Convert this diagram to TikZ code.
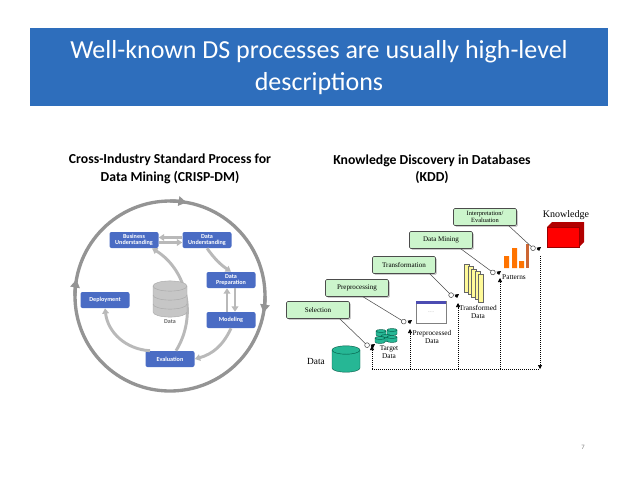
\documentclass[tikz,border=0pt]{standalone}
\usepackage{fontspec}
\setmainfont{Carlito}
\newfontfamily\serif{Liberation Serif}
\usetikzlibrary{arrows.meta,shapes.geometric,shadows,calc}
\definecolor{banner}{RGB}{46,110,188}
\definecolor{cbox}{RGB}{74,108,196}
\definecolor{agray}{RGB}{185,185,185}
\definecolor{kgreen}{RGB}{204,245,204}
\definecolor{teal}{RGB}{0,170,130}
\newlength{\pu}\setlength{\pu}{0.75pt}
\tikzset{
 cb/.style={fill=cbox,rounded corners=1.5pt,minimum width=49\pu,minimum height=16\pu,inner sep=0pt,text=white,font=\bfseries\fontsize{4.6}{5}\selectfont,align=center},
 ga/.style={draw=agray,line width=2.2pt,-{Triangle[length=4pt,width=5pt]}},
 kb/.style={draw=black!70,fill=kgreen,rounded corners=1pt,minimum width=63\pu,minimum height=17\pu,inner sep=0pt,font=\serif\fontsize{5.3}{5.5}\selectfont,align=center,drop shadow={shadow xshift=1pt,shadow yshift=-1pt,fill=black!40}},
 kl/.style={font=\serif\fontsize{5.5}{6}\selectfont,align=center,inner sep=0pt},
 con/.style={draw=black!70,line width=0.4pt,-{Circle[open,length=4pt,width=4pt]}},
 tip/.style={-{Triangle[length=3pt,width=3pt]},line width=0.4pt},
 dot/.style={densely dotted,line width=0.5pt},
 hd/.style={font=\bfseries\fontsize{10.3}{13}\selectfont,align=center,inner sep=0pt},
 pics/cyl/.style args={#1/#2/#3/#4}{code={
   \fill[#3] (-#1,0) -- (-#1,#2) arc[start angle=180,end angle=0,x radius=#1,y radius=#1*0.3] -- (#1,0) arc[start angle=0,end angle=-180,x radius=#1,y radius=#1*0.3];
   \draw[#4,line width=0.3pt] (-#1,0) -- (-#1,#2) arc[start angle=180,end angle=0,x radius=#1,y radius=#1*0.3] -- (#1,0);
   \draw[#4,line width=0.3pt] (0,0) ellipse[x radius=#1,y radius=#1*0.3];
 }},
}
\begin{document}
\begin{tikzpicture}[x=0.75pt,y=-0.75pt]
\useasboundingbox (0,0) rectangle (638,493);
\fill[banner] (30,28) rectangle (608,106);
\node[text=white,font=\fontsize{19.5}{24}\selectfont,align=center] (title) at (319,68) {Well-known DS processes are usually high-level\\descriptions};
\node[hd] (hl) at (170,169) {Cross-Industry Standard Process for\\Data Mining (CRISP-DM)};
\node[hd] (hr) at (432,169) {Knowledge Discovery in Databases\\(KDD)};
% CRISP
\coordinate (cc) at (170,296);
\draw[agray!80!black,line width=2.5pt] (cc) circle[radius=95\pu];
\draw[agray!80!black,line width=2.5pt,-{Triangle[length=6pt,width=7pt]}] ($(cc)+(0,-95)$) arc[start angle=90,end angle=80,radius=95\pu];
\draw[agray!80!black,line width=2.5pt,-{Triangle[length=6pt,width=7pt]}] ($(cc)+(95,0)$) arc[start angle=0,end angle=-10,radius=95\pu];
\draw[agray!80!black,line width=2.5pt,-{Triangle[length=6pt,width=7pt]}] ($(cc)+(-95,0)$) arc[start angle=180,end angle=170,radius=95\pu];
\node[cb] (bu) at (134,240) {Business\\Understanding};
\node[cb] (du) at (207,240) {Data\\Understanding};
\node[cb] (dp) at (231,280) {Data\\Preparation};
\node[cb] (mo) at (231,320) {Modeling};
\node[cb] (de) at (105,300) {Deployment};
\node[cb] (ev) at (170,359) {Evaluation};
\draw[ga] ([yshift=-2.5\pu]bu.east) -- ([yshift=-2.5\pu]du.west);
\draw[ga] ([yshift=2.5\pu]du.west) -- ([yshift=2.5\pu]bu.east);
\draw[ga] (du.south) to[bend right=10] (dp.north);
\draw[ga] ([xshift=4\pu]dp.south) -- ([xshift=4\pu]mo.north);
\draw[ga] ([xshift=-4\pu]mo.north) -- ([xshift=-4\pu]dp.south);
\draw[ga] (mo.south) to[bend left=25] (ev.east);
\draw[ga] ([xshift=-20\pu]ev.north) to[bend left=40] (de.south);
\draw[ga] ([xshift=6\pu]ev.north) to[bend right=45] ([xshift=18\pu]bu.south);
\pic at (170,286) {cyl=17/26/{gray!45}/{gray!70}};
\draw[gray!70,line width=0.3pt] (153,295) arc[start angle=180,end angle=0,x radius=17,y radius=5.1] (153,304) arc[start angle=180,end angle=0,x radius=17,y radius=5.1];
\node[font=\bfseries\fontsize{4.5}{5}\selectfont,text=black!60] (dbl) at (170,322) {Data};
% KDD
\node[kb] (sel) at (318,310) {Selection};
\node[kb] (pre) at (357,288) {Preprocessing};
\node[kb] (tra) at (404,265) {Transformation};
\node[kb] (dm) at (441,240) {Data Mining};
\node[kb,font=\serif\fontsize{4.8}{5}\selectfont] (ie) at (485,217) {Interpretation/\\Evaluation};
\node[font=\serif\fontsize{7.5}{8}\selectfont,inner sep=0pt] (kn) at (566,215) {Knowledge};
\fill[red!70!black] (547,227) -- (552,222) -- (584,222) -- (584,242) -- (579,247) -- (579,227) -- cycle;
\node[fill=red,draw=red!60!black,line width=0.2pt,minimum width=32\pu,minimum height=20\pu,inner sep=0pt] (kbx) at (563,237) {};
\pic at (346,350) {cyl=14/18/{teal!85}/{teal!50!black}};
\node[kl,font=\serif\fontsize{7}{7}\selectfont] (datal) at (316,361) {Data};
\foreach \p/\q in {381/331,392/330,386/336,380/338,392/337}{
 \pic at (\p,\q) {cyl=5/4/{teal!85}/{teal!50!black}};}
\node[kl] (tdl) at (389,352) {Target\\Data};
\node[draw=black!50,fill=white,minimum width=30\pu,minimum height=22\pu,inner sep=0pt] (win) at (431,312) {};
\fill[blue!40!gray] (416,301) rectangle (446,304);
\node[font=\fontsize{3}{3}\selectfont,text=gray] at (431,313) {- - -};
\node[kl] (ppl) at (432,337) {Preprocessed\\Data};
\foreach \i in {0,1,2,3,4}{
 \node[draw=black!60,fill=yellow!40,minimum width=5\pu,minimum height=28\pu,inner sep=0pt] at (467+\i*3.5,278+\i*2.5) {};}
\node[kl] (trl) at (478,312) {Transformed\\Data};
\fill[orange!90!red] (504,256) rectangle (509,268) (512,248) rectangle (517,268) (519,261) rectangle (524,268);
\fill[brown!80!red] (526,244) rectangle (529,268);
\node[kl] (pat) at (514,277) {Patterns};
% connectors
\coordinate (c1) at (369,347); \coordinate (c2) at (406,323);
\coordinate (c3) at (453,297); \coordinate (c4) at (495,274); \coordinate (c5) at (535,250);
\draw[con] ([xshift=-10\pu]sel.south east) -- (c1);
\draw[con] ([xshift=6\pu]pre.south) -- (c2);
\draw[con] ([xshift=-6\pu]tra.south east) -- (c3);
\draw[con] ([xshift=-12\pu]dm.south east) -- (c4);
\draw[con] ([xshift=-8\pu]ie.south east) -- (c5);
\foreach \c in {c1,c2,c3,c4,c5}{\draw[tip] ($(\c)+(2,0)$) -- ++(4,-3);}
\coordinate (b1) at (372,369); \coordinate (b5) at (540,369);
\draw[dot] (b1) -- (b5);
\draw[dot,-{Triangle[length=3pt,width=3pt]}] (b1) -- (372,346);
\draw[dot,-{Triangle[length=3pt,width=3pt]}] (410,369) -- (410,329);
\draw[dot,-{Triangle[length=3pt,width=3pt]}] (458,369) -- (458,303);
\draw[dot,-{Triangle[length=3pt,width=3pt]}] (500,369) -- (500,278);
\draw[dot,-{Triangle[length=3pt,width=3pt]}] (540,256) -- (b5);
\node[text=gray,font=\fontsize{5}{5}\selectfont] (pg) at (583,447) {7};
\end{tikzpicture}
\end{document}
